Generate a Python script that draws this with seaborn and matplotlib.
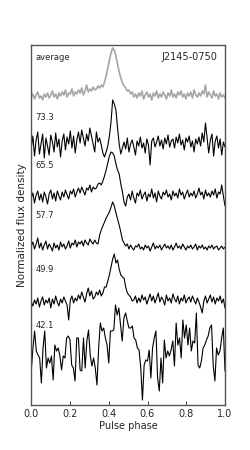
import numpy as np
import pandas as pd
import matplotlib
matplotlib.use("Agg")
import matplotlib.pyplot as plt
import seaborn as sns

# profile heights, one array per frequency
avg = [3, 6, 1, 5, 8, 2, 4, 0, 6, 3,
       7, 2, 5, 9, 3, 6, 1, 7, 4, 8,
       5, 10, 3, 7, 6, 11, 4, 8, 6, 10,
       7, 12, 5, 9, 15, 8, 11, 9, 13, 10,
       11, 14, 12, 15, 13, 18, 24, 32, 40, 47,
       52, 50, 44, 36, 28, 22, 17, 14, 12, 9,
       10, 6, 8, 3, 6, 2, 7, 4, 9, 1,
       5, 8, 3, 6, 0, 7, 4, 9, 2, 6,
       3, 8, 5, 1, 7, 4, 10, 3, 6, 2,
       8, 5, 9, 3, 6, 1, 7, 4, 8, 2,
       10, 5, 3, 7, 4, 9, 6, 15, 3, 8,
       5, 2, 9, 4, 6, 1, 7, 3, 5, 2]
f733 = [2, 14, -6, 10, 18, -4, 6, 16, -8, 12,
        4, -5, 15, 8, -2, 17, 3, 11, -7, 9,
        16, 0, 13, 6, 19, 2, 14, -3, 10, 18,
        7, 20, 12, 4, 16, 9, 22, 14, 6, -2,
        18, 8, 12, 5, -3, -7, -2, 4, 14, 28,
        50, 46, 40, 22, 6, -4, 2, 8, 1, 12,
        -2, 6, 10, 3, -5, 9, 4, 13, 2, 7,
        -3, 11, 5, -15, 9, 12, 3, 8, 14, 4,
        10, 1, 12, 6, 15, 3, 9, 11, 2, 13,
        7, 16, 5, 10, 0, 12, 8, 14, 3, 9,
        -2, 11, 6, 13, 4, 17, 8, 27, 12, -3,
        10, 16, -6, 9, 14, 2, 11, -5, 8, 3]
f655 = [2, 7, -3, 5, 9, 0, 6, -2, 8, 3,
        -4, 6, 10, 1, 7, -1, 9, 4, 0, 8,
        3, 10, 5, 1, 9, 6, 11, 3, 8, 12,
        7, 13, 9, 5, 12, 10, 15, 8, 13, 11,
        12, 16, 17, 15, 19, 24, 30, 37, 44, 48,
        47, 44, 36, 30, 26, 16, 8, -2, -6, 3,
        6, 0, 9, 2, -3, 7, 4, 10, 1, 5,
        8, -1, 6, 3, 11, 2, 7, -2, 9, 4,
        1, 8, 5, 10, 3, 6, 0, 9, 4, 7,
        2, 11, 5, 8, 1, 6, 10, 3, 7, 4,
        9, 2, 6, 12, 5, 8, 1, 10, 4, 7,
        3, 9, 5, 11, 2, 8, 6, 15, 4, -6]
f577 = [6, 10, 3, 8, 14, 4, 9, 2, 7, 11,
        3, 8, 5, 1, 9, 4, 7, 2, 10, 5,
        8, 3, 6, 11, 4, 9, 7, 12, 5, 10,
        8, 11, 6, 12, 9, 7, 13, 10, 8, 12,
        9, 8, 17, 22, 26, 30, 34, 37, 40, 45,
        50, 46, 39, 33, 27, 20, 12, 9, 6, 8,
        3, 7, 4, 2, 6, 5, 8, 3, 5, 2,
        7, 4, 6, 1, 5, 9, 3, 6, 4, 7,
        2, 5, 8, 4, 6, 3, 7, 2, 5, 9,
        4, 6, 3, 8, 5, 2, 6, 4, 7, 3,
        5, 8, 2, 6, 4, 7, 3, 5, 2, 6,
        4, 7, 3, 5, 6, 2, 4, 6, 3, 5]
f499 = [3, -1, 5, 1, 7, -2, 4, 8, 0, 5,
        2, 7, -3, 6, 1, 9, 3, -1, 6, 2,
        8, 4, 0, -15, 5, 9, 2, 7, 4, 10,
        6, 13, 8, 3, 11, 17, 9, 14, 6, 8,
        13, 10, 15, 9, 12, 18, 18, 24, 30, 38,
        46, 51, 42, 45, 36, 30, 28, 27, 18, 12,
        10, 8, 4, 5, 9, 2, 7, 3, 10, 5,
        8, 1, 6, 11, 4, 9, 2, 7, 12, 3,
        8, 5, 0, 10, 4, 7, 2, 11, 6, 3,
        9, 1, 7, 4, 10, 2, 6, 8, 3, 9,
        5, 1, 7, 3, -2, -8, 4, 9, 2, 6,
        10, 3, 8, 1, 7, 4, 9, 2, 6, -3]
f421 = [29, 52, 69, 49, 45, 42, 17, 52, 69, 32, 42, 37, 44, 20, 55, 49, 52, 44, 30, 44, 42, 62,
        64, 60, 35, 32, 19, 62, 62, 30, 29, 62, 32, 59, 70, 45, 34, 42, 32, 15, 52, 77, 69, 72,
        62, 55, 37, 69, 69, 70, 95, 85, 92, 75, 59, 82, 87, 79, 72,
        72, 74, 62, 60, 52, 50, 32, 0, 35, 40, 39, 50, 22, 52, 62, 69, 22, 9, 42, 17, 60, 42,
        49, 44, 50, 59, 34, 77, 55, 62, 42, 80, 62, 75, 55, 72, 49, 59, 57, 87, 35, 32, 39, 52,
        55, 60, 64, 72, 75, 35, 19, 52, 45, 49, 62, 72, 29]

profiles = [avg, f733, f655, f577, f499, f421]
labels = ["average", "73.3", "65.5", "57.7", "49.9", "42.1"]
offsets = [305, 255, 205, 153, 100, 5]
label_y = [348, 287, 239, 189, 136, 80]
colors = ["#a6a6a6", "black", "black", "black", "black", "black"]

rows = []
for lab, prof, off in zip(labels, profiles, offsets):
    ph = np.linspace(0, 1, len(prof))
    for p, v in zip(ph, prof):
        rows.append({"phase": p, "flux": v + off, "freq": lab})
df = pd.DataFrame(rows)

sns.set_style("white")
plt.rcParams["font.family"] = ["DejaVu Sans"]
plt.rcParams["xtick.direction"] = "in"

fig = plt.figure(figsize=(2.5, 4.5), dpi=100)
ax = fig.add_axes([0.125, 0.1, 0.775, 0.8])

sns.lineplot(data=df, x="phase", y="flux", hue="freq", hue_order=labels,
             palette=colors, linewidth=0.8, legend=False, ax=ax, estimator=None, sort=False)
# the average profile is drawn a bit heavier
ax.lines[0].set_linewidth(1.2)

for lab, yy in zip(labels, label_y):
    ax.text(0.02, yy, lab, fontsize=6, ha="left", va="center")
ax.text(0.96, 348, "J2145-0750", fontsize=7, ha="right", va="center")

ax.set_xlim(0, 1)
ax.set_ylim(0, 360)
ax.set_yticks([])
ax.set_xticks([0, 0.2, 0.4, 0.6, 0.8, 1.0])
ax.set_xticklabels(["0.0", "0.2", "0.4", "0.6", "0.8", "1.0"])
ax.tick_params(axis="x", labelsize=7, length=3, width=0.6, pad=3, bottom=True)
ax.set_xlabel("Pulse phase", fontsize=7, labelpad=1)
ax.set_ylabel("Normalized flux density", fontsize=7.5, labelpad=3)
for s in ax.spines.values():
    s.set_color("#555555")
    s.set_linewidth(1.0)

fig.savefig("out.png", dpi=100)
plt.close(fig)
